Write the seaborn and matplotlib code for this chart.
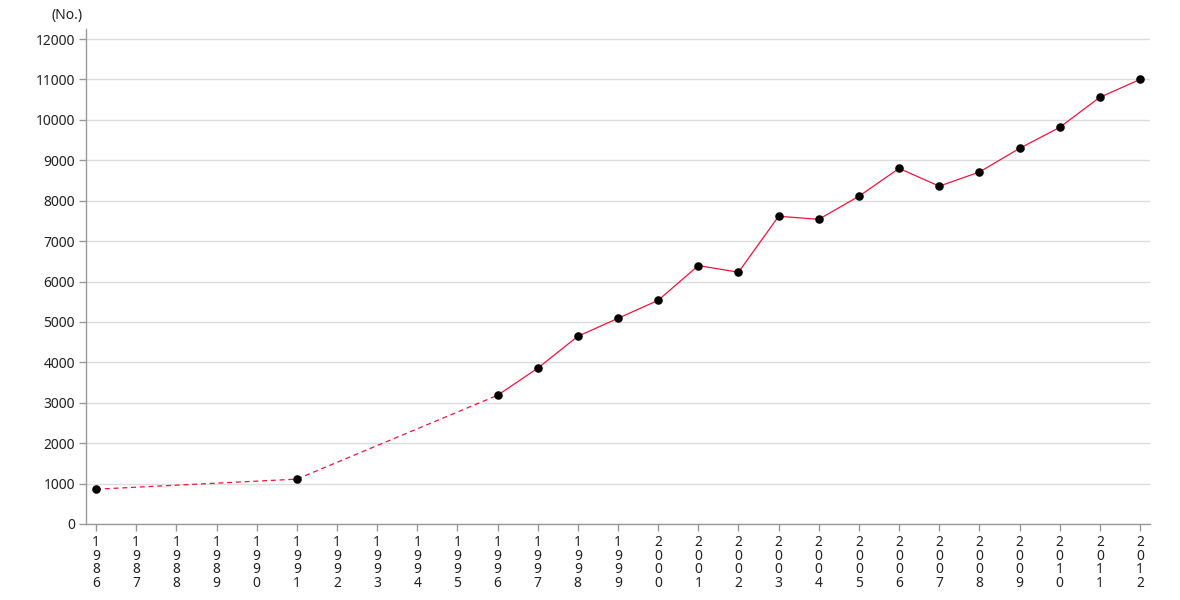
import numpy as np
import pandas as pd
import seaborn as sns
import matplotlib.pyplot as plt

# Data (no survey between 1986-1991 and 1991-1996)
years = list(range(1986, 2013))
known_years = [1986, 1991, 1996, 1997, 1998, 1999, 2000, 2001, 2002, 2003,
               2004, 2005, 2006, 2007, 2008, 2009, 2010, 2011, 2012]
counts = [860, 1110, 3185, 3855, 4645, 5090, 5535, 6395, 6230, 7615,
          7540, 8110, 8800, 8360, 8710, 9295, 9815, 10560, 11000]
year_labels = ['\n'.join(str(y)) for y in years]

df = pd.DataFrame({'year': known_years, 'count': counts})
gap = df[df['year'] <= 1996]
cont = df[df['year'] >= 1996]

sns.set_style('white')
plt.rcParams['font.family'] = ['Noto Sans', 'DejaVu Sans']

fig = plt.figure(figsize=(11.8, 6), dpi=100)
ax = fig.add_axes([0.0729, 0.1267, 0.9017, 0.825])

line_color = '#f0143c'
sns.lineplot(data=gap, x='year', y='count', ax=ax, color=line_color,
             linewidth=0.9, linestyle=(0, (4, 3)))
sns.lineplot(data=cont, x='year', y='count', ax=ax, color=line_color,
             linewidth=0.9)
sns.scatterplot(data=df, x='year', y='count', ax=ax, color='black',
                s=38, edgecolor='black', linewidth=0, zorder=5)

ax.set_xlim(1985.75, 2012.25)
ax.set_ylim(0, 12250)
ax.set_yticks(range(0, 12001, 1000))
ax.set_xticks(years)
ax.set_xticklabels(year_labels, linespacing=0.88)
ax.set_xlabel('')
ax.set_ylabel('')

ax.yaxis.grid(True, color='#dcdcdc', linewidth=1)
ax.set_axisbelow(True)
sns.despine(ax=ax)
for side in ['left', 'bottom']:
    ax.spines[side].set_color('#999999')
    ax.spines[side].set_linewidth(1)
ax.tick_params(axis='both', which='both', length=5, width=1, color='#999999',
               labelsize=10, labelcolor='#222222', pad=3)
ax.tick_params(axis='x', bottom=True)
ax.tick_params(axis='y', left=True)

fig.text(0.044, 0.974, '(No.)', fontsize=10, color='#222222', va='center')

fig.savefig('out.png', dpi=100)
